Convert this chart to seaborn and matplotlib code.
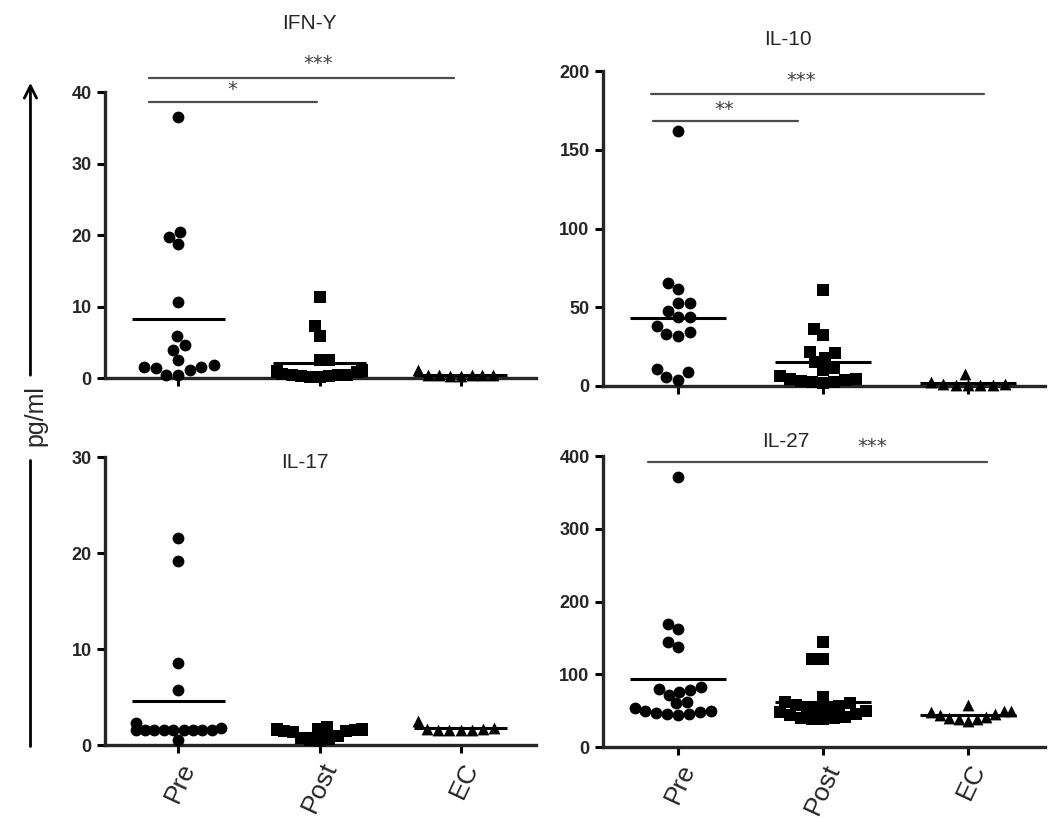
import warnings
import numpy as np
import pandas as pd
import matplotlib.pyplot as plt
from matplotlib.patches import FancyArrowPatch
from matplotlib.lines import Line2D
from matplotlib.collections import PathCollection
import seaborn as sns

warnings.filterwarnings('ignore')

# groups on the x axis
groups = ['Pre', 'Post', 'EC']
markers = ['o', 's', '^']

# IFN-Y (pg/ml)
ifng_pre = [36.6, 20.5, 19.8, 18.8, 10.7, 5.9, 4.6, 4.0, 2.5, 1.8, 1.6, 1.6, 1.4, 1.1, 0.4, 0.4]
ifng_post = [11.4, 7.3, 5.9, 2.6, 2.6, 1.2, 1.0, 1.0, 0.9, 0.8, 0.6, 0.5, 0.4, 0.4, 0.3, 0.3, 0.2, 0.2]
ifng_ec = [1.1, 0.5, 0.4, 0.4, 0.4, 0.4, 0.3, 0.3]

# IL-10
il10_pre = [162, 65.4, 61.2, 52.7, 52.3, 47.7, 43.5, 43.5, 38, 34, 32.9, 31.8, 10.6, 8.6, 5.5, 3.8]
il10_post = [60.8, 35.9, 32.0, 21.6, 21.0, 17.5, 14.8, 11.2, 10.0, 6.0, 4.5, 4.0, 3.5, 3.0, 2.5, 2.0, 1.5]
il10_ec = [7.5, 2.0, 1.0, 0.8, 0.5, 0.5, 0.3, 0.2]

# IL-17
il17_pre = [21.6, 19.2, 8.6, 5.8, 2.3, 1.8, 1.6, 1.6, 1.6, 1.6, 1.6, 1.6, 1.6, 1.6, 1.6, 0.6]
il17_post = [1.9, 1.7, 1.7, 1.7, 1.6, 1.6, 1.6, 1.6, 1.5, 1.5, 1.4, 1.0, 0.8, 0.7, 0.6, 0.5]
il17_ec = [2.5, 1.8, 1.7, 1.7, 1.6, 1.6, 1.6, 1.6]

# IL-27
il27_pre = [372, 169, 162, 145, 137, 83, 80, 78, 76, 72, 62, 60, 54, 50, 50, 48, 47, 46, 45, 44]
il27_post = [145, 121, 121, 69, 62, 60, 58, 56, 55, 54, 52, 50, 48, 46, 44, 42, 40, 40, 38, 38]
il27_ec = [58, 50, 50, 48, 46, 44, 42, 40, 38, 38, 36]

sns.set_style('ticks')
plt.rcParams['font.family'] = ['Liberation Sans', 'DejaVu Sans']

fig = plt.figure(figsize=(10.5, 8.31), dpi=100)

# (title, data, axes rect, ymax, yticks, x labels, title pos, significance bars)
panels = [
    ('IFN-Y', [ifng_pre, ifng_post, ifng_ec], [0.100, 0.545, 0.410, 0.344], 40, [0, 10, 20, 30, 40], False,
     (0.295, 0.972), [(-0.21, 1.95, 42.0, '***', 0.99, 44.0), (-0.21, 0.98, 38.6, '*', 0.38, 40.4)]),
    ('IL-10', [il10_pre, il10_post, il10_ec], [0.574, 0.536, 0.421, 0.378], 200, [0, 50, 100, 150, 200], False,
     (0.75, 0.952), [(-0.19, 2.11, 185.4, '***', 0.85, 194.5), (-0.17, 0.83, 168.4, '**', 0.32, 175.5)]),
    ('IL-17', [il17_pre, il17_post, il17_ec], [0.100, 0.103, 0.410, 0.347], 30, [0, 10, 20, 30], True,
     (0.29, 0.444), []),
    ('IL-27', [il27_pre, il27_post, il27_ec], [0.574, 0.101, 0.421, 0.350], 400, [0, 100, 200, 300, 400], True,
     (0.748, 0.469), [(-0.21, 2.13, 392, '***', 1.34, 414)]),
]

axes = []
for title, vals, rect, ymax, yticks, show_x, tpos, sigs in panels:
    ax = fig.add_axes(rect)
    axes.append(ax)
    df = pd.DataFrame({'group': np.repeat(groups, [len(v) for v in vals]),
                       'value': np.concatenate(vals)})
    ax.set_xlim(-0.52, 2.53)
    ax.set_ylim(0, ymax)
    for g, m in zip(groups, markers):
        sns.swarmplot(data=df[df.group == g], x='group', y='value', order=groups,
                      marker=m, color='black', size=8.5, linewidth=0, warn_thresh=1, ax=ax)
    for c in ax.collections:
        c.set_clip_on(False)
    means = df.groupby('group')['value'].mean().reindex(groups)
    for i, mv in enumerate(means):
        ax.hlines(mv, i - 0.33, i + 0.33, color='black', lw=2.2, zorder=5, clip_on=False)

    ax.set_xlim(-0.52, 2.53)
    ax.set_ylim(0, ymax)
    ax.set_yticks(yticks)
    ax.set_xlabel('')
    ax.set_ylabel('')
    sns.despine(ax=ax)
    for s in ['left', 'bottom']:
        ax.spines[s].set_linewidth(2.4)
    ax.tick_params(axis='both', length=6, width=2.2, color='black')
    for lab in ax.get_yticklabels():
        lab.set_fontweight('bold')
        lab.set_fontsize(13)
        lab.set_family(['Liberation Sans Narrow', 'Liberation Sans', 'DejaVu Sans'])
    ax.set_xticks(range(3))
    if show_x:
        ax.set_xticklabels(groups, rotation=65, ha='right', rotation_mode='anchor', fontsize=19)
    else:
        ax.set_xticklabels([])

    for x0, x1, y, lab, xt, yt in sigs:
        ax.plot([x0, x1], [y, y], color='0.3', lw=1.6, clip_on=False)
        ax.text(xt, yt, lab, ha='center', va='center', fontsize=14, color='0.25',
                family=['DejaVu Sans'], clip_on=False)

    fig.text(tpos[0], tpos[1], title, ha='center', va='center', fontsize=15)

# shared y label with arrow
fig.text(0.034, 0.5, 'pg/ml', rotation=90, ha='center', va='center', fontsize=18)
fig.add_artist(FancyArrowPatch((0.029, 1 - 378 / 831), (0.029, 1 - 80 / 831), transform=fig.transFigure,
                               arrowstyle='->', mutation_scale=22, lw=2, color='black'))
fig.add_artist(Line2D([0.029, 0.029], [1 - 460 / 831, 1 - 746 / 831], transform=fig.transFigure,
                      lw=2, color='black'))

# lay out the swarms once, then squeeze wide rows so they overlap like the original
fig.canvas.draw()
for ax in axes:
    for c in ax.collections:
        if not isinstance(c, PathCollection):
            continue
        c.__dict__.pop('draw', None)
        off = np.asarray(c.get_offsets(), dtype=float)
        if len(off) == 0:
            continue
        center = np.round(np.median(off[:, 0]))
        dev = off[:, 0] - center
        span = np.abs(dev).max()
        if span > 0.3:
            off[:, 0] = center + dev * 0.3 / span
            c.set_offsets(off)

fig.savefig('out.png', dpi=100)
